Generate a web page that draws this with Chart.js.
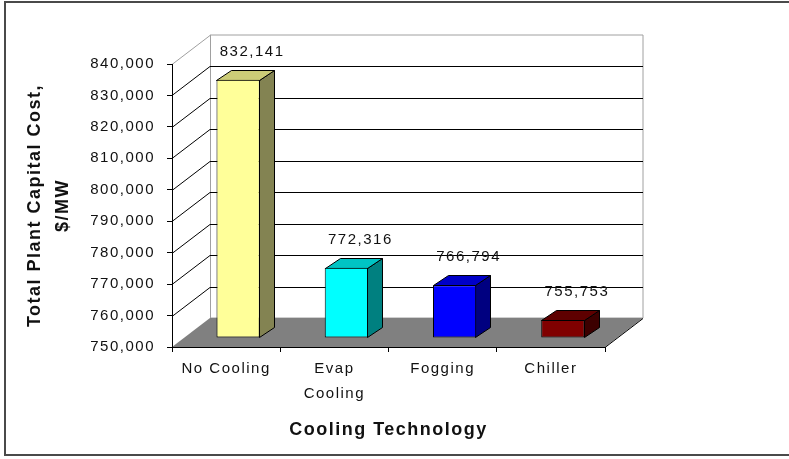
<!DOCTYPE html>
<html>
<head>
<meta charset="utf-8">
<title>Cooling Technology</title>
<script src="https://cdn.jsdelivr.net/npm/chart.js@4"></script>
<style>
  html, body { margin: 0; padding: 0; background: #fff; }
  canvas { display: block; }
</style>
</head>
<body>
<canvas id="chart" width="789" height="459"></canvas>
<script>
const categories = ['No Cooling', ['Evap', 'Cooling'], 'Fogging', 'Chiller']
const capitalCost = [832141, 772316, 766794, 755753]
const yTicks = [750000, 760000, 770000, 780000, 790000, 800000, 810000, 820000, 830000, 840000]

const frontColors = ['#ffff99', '#00ffff', '#0000ff', '#800000']
const topColors = ['#cccc77', '#00c4c4', '#0000c8', '#5e0000']
const sideColors = ['#838352', '#008080', '#000080', '#3c0000']

// fake 3d: depth of the walls, offset of the bars into the room, depth of a bar
const wall = {dx: 38, dy: -29}
const barShift = {dx: 12, dy: -9}
const barDepth = {dx: 15, dy: -10}

const fmt = v => v.toLocaleString('en-US')

function poly(ctx, pts, fill, stroke) {
  ctx.beginPath()
  ctx.moveTo(pts[0][0], pts[0][1])
  for (let i = 1; i < pts.length; i++) ctx.lineTo(pts[i][0], pts[i][1])
  ctx.closePath()
  if (fill) { ctx.fillStyle = fill; ctx.fill() }
  if (stroke) { ctx.strokeStyle = stroke; ctx.stroke() }
}

function line(ctx, x1, y1, x2, y2, color) {
  ctx.beginPath()
  ctx.moveTo(x1, y1)
  ctx.lineTo(x2, y2)
  ctx.strokeStyle = color
  ctx.stroke()
}

const box3d = {
  id: 'box3d',
  beforeUpdate(chart) {
    chart.ctx.letterSpacing = '1.5px'
  },
  beforeDraw(chart) {
    const ctx = chart.ctx
    ctx.letterSpacing = '1.5px'
    const {left, right, top, bottom} = chart.chartArea
    const y = chart.scales.y

    ctx.save()
    ctx.fillStyle = '#fff'
    ctx.fillRect(0, 0, chart.width, chart.height)
    ctx.lineWidth = 2
    ctx.strokeStyle = '#4a4a4a'
    ctx.strokeRect(5, 2, chart.width + 20, 453)

    ctx.lineWidth = 1
    const bl = left + wall.dx, br = right + wall.dx
    const bt = top + wall.dy, bb = bottom + wall.dy
    // back wall and side wall
    poly(ctx, [[bl, bt], [br, bt], [br, bb], [bl, bb]], '#fff', '#a0a0a0')
    poly(ctx, [[left, top], [bl, bt], [bl, bb], [left, bottom]], '#fff', null)
    line(ctx, bl + 0.5, bt, bl + 0.5, bb, '#a0a0a0')

    // gridlines on both walls
    yTicks.forEach(v => {
      if (v === y.min) return
      const yf = Math.round(y.getPixelForValue(v)) + 0.5
      const yb = yf + wall.dy
      const c = v === y.max ? '#a0a0a0' : '#000'
      line(ctx, left, yf, bl, yb, c)
      if (v !== y.max) line(ctx, bl, yb, br, yb, c)
    })

    // floor
    poly(ctx, [[left, bottom], [right, bottom], [br, bb], [bl, bb]], '#808080', null)
    line(ctx, right, bottom + 0.5, br, bb + 0.5, '#000')
    ctx.restore()
  },
  beforeDatasetsDraw(chart) {
    const ctx = chart.ctx
    const meta = chart.getDatasetMeta(0)
    ctx.save()
    ctx.lineWidth = 1
    meta.data.forEach((bar, i) => {
      const l = Math.round(bar.x - bar.width / 2 + barShift.dx) + 0.5
      const r = Math.round(bar.x + bar.width / 2 + barShift.dx) - 0.5
      const t = Math.round(bar.y + barShift.dy) + 0.5
      const b = Math.round(bar.base + barShift.dy) - 0.5
      poly(ctx, [[r, t], [r + barDepth.dx, t + barDepth.dy], [r + barDepth.dx, b + barDepth.dy], [r, b]], sideColors[i], '#000')
      poly(ctx, [[l, t], [l + barDepth.dx, t + barDepth.dy], [r + barDepth.dx, t + barDepth.dy], [r, t]], topColors[i], '#000')
    })
    ctx.restore()
    ctx.save()
    ctx.translate(barShift.dx, barShift.dy)
  },
  afterDatasetsDraw(chart) {
    const ctx = chart.ctx
    ctx.restore()
    const meta = chart.getDatasetMeta(0)
    ctx.save()
    ctx.font = '15px "Liberation Sans", Arial, sans-serif'
    ctx.fillStyle = '#111'
    ctx.textAlign = 'center'
    ctx.textBaseline = 'middle'
    meta.data.forEach((bar, i) => {
      ctx.fillText(fmt(capitalCost[i]), bar.x + barShift.dx + 14, bar.y + barShift.dy - 28)
    })
    ctx.restore()
  }
}

Chart.defaults.font.family = '"Liberation Sans", Arial, sans-serif'
Chart.defaults.color = '#111'

const ctx = document.getElementById('chart').getContext('2d')

new Chart(ctx, {
  type: 'bar',
  data: {
    labels: categories,
    datasets: [{
      data: capitalCost,
      base: yTicks[0],
      backgroundColor: frontColors,
      borderColor: '#000',
      borderWidth: 1,
      borderSkipped: false,
      categoryPercentage: 0.4,
      barPercentage: 1,
      clip: false
    }]
  },
  options: {
    responsive: false,
    animation: false,
    layout: {padding: {top: 64, right: 184, left: 0, bottom: 0}},
    plugins: {
      legend: {display: false},
      tooltip: {enabled: false}
    },
    scales: {
      x: {
        grid: {drawOnChartArea: false, drawTicks: true, tickLength: 5, color: '#000'},
        border: {display: true, color: '#000'},
        ticks: {
          font: {size: 15, lineHeight: 1.667},
          padding: 4,
          autoSkip: false,
          maxRotation: 0,
          minRotation: 0
        },
        title: {
          display: true,
          text: 'Cooling Technology',
          font: {size: 18, weight: 'bold', lineHeight: 1.2},
          padding: {top: 0, bottom: 18}
        },
        afterFit(scale) { scale.height = 112 }
      },
      y: {
        min: yTicks[0],
        max: yTicks[yTicks.length - 1],
        afterBuildTicks(scale) { scale.ticks = yTicks.map(v => ({value: v})) },
        grid: {drawOnChartArea: false, drawTicks: true, tickLength: 5, color: '#000'},
        border: {display: true, color: '#000'},
        ticks: {
          font: {size: 15},
          padding: 12,
          callback: v => fmt(v)
        },
        title: {
          display: true,
          text: ['Total Plant Capital Cost,', '$/MW'],
          font: {size: 18, weight: 'bold', lineHeight: 1.556},
          padding: {top: 21, bottom: 0}
        },
        afterFit(scale) { scale.width = 172 }
      }
    }
  },
  plugins: [box3d]
})
</script>
</body>
</html>
